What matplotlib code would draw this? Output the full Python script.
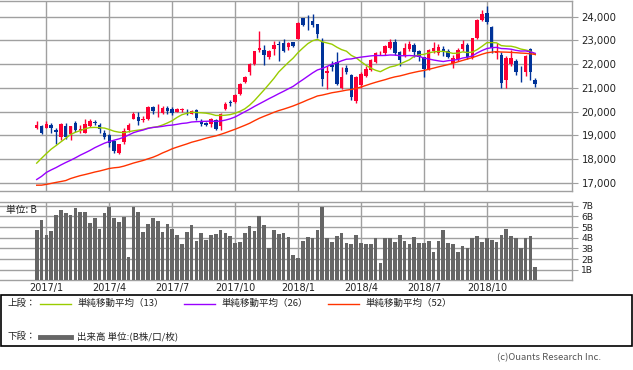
import numpy as np
import pandas as pd
import matplotlib
matplotlib.use('Agg')
import matplotlib.pyplot as plt
from matplotlib.patches import Rectangle
from matplotlib.lines import Line2D
from matplotlib.ticker import FuncFormatter

plt.rcParams['font.family'] = ['Noto Sans CJK JP', 'DejaVu Sans']

# 週足データ (2016/12/23 〜 2018/12/14)
open_ = [19310, 19390, 19298, 19450, 19220, 18940, 19400, 19040, 19500, 19200,
         19110, 19390, 19560, 19450, 19100, 19000, 18750, 18250, 18700, 19200,
         19700, 19780, 19650, 19680, 20180, 19920, 19950, 20150, 20100, 20000,
         20050, 20000, 19900, 20050, 19600, 19500, 19470, 19650, 19380, 20100,
         20400, 20400, 20720, 21250, 21650, 22000, 22600, 22590, 22300, 22640,
         22850, 22880, 22730, 22930, 23073, 23930, 23830, 23820, 23690, 22950,
         21610, 21950, 22100, 21000, 21820, 21550, 20450, 21100, 21500, 21760,
         22100, 22460, 22450, 22700, 22950, 22500, 22350, 22650, 22800, 22550,
         22280, 21800, 22550, 22470, 22620, 22550, 22030, 22200, 22630, 22800,
         22250, 23100, 23860, 24140, 23580, 22480, 22380, 21330, 22000, 22130,
         21650, 21650, 22620, 21330]
high = [19592, 19440, 19615, 19520, 19320, 19510, 19500, 19400, 19620, 19420,
        19680, 19670, 19660, 19500, 19200, 19050, 18800, 18650, 19290, 19500,
        19960, 19990, 19830, 20239, 20230, 20300, 20230, 20240, 20200, 20140,
        20150, 20120, 20080, 20090, 19700, 19550, 19740, 19700, 19930, 20400,
        20480, 20740, 21190, 21480, 22050, 22560, 23382, 22800, 22600, 22990,
        22990, 23050, 22950, 22950, 23765, 23952, 24084, 24124, 23700, 23100,
        21900, 22150, 22500, 21880, 21970, 21600, 21500, 21650, 21900, 22230,
        22500, 22560, 22800, 23050, 23050, 22550, 22880, 22970, 22880, 22600,
        22300, 22650, 22950, 22830, 22750, 22650, 22400, 22700, 23000, 22900,
        23100, 23900, 24286, 24448, 23620, 22900, 22500, 22330, 22580, 22200,
        21900, 22400, 22700, 21400]
low = [19250, 19050, 19298, 19080, 18650, 18790, 18830, 18800, 19150, 19100,
       19100, 19350, 19440, 19100, 18850, 18517, 18250, 18224, 18650, 19150,
       19690, 19450, 19560, 19630, 19900, 19780, 19900, 19880, 19850, 19990,
       19990, 19870, 19880, 19660, 19400, 19400, 19350, 19240, 19200, 20060,
       20250, 20340, 20700, 21200, 21540, 21950, 22500, 21970, 22200, 22400,
       22120, 22500, 22600, 22740, 23050, 23600, 23440, 23570, 23100, 21078,
       20950, 21700, 21100, 20940, 21600, 20500, 20347, 21000, 21450, 21700,
       22050, 22400, 22400, 22650, 22400, 21931, 22300, 22550, 22300, 22150,
       21462, 21750, 22450, 22400, 22350, 22250, 21851, 22150, 22550, 22200,
       22200, 23050, 23800, 23700, 22460, 22200, 20971, 21000, 21900, 21550,
       21240, 21500, 21330, 21020]
close = [19427, 19114, 19454, 19287, 19137, 19467, 18918, 19378, 19234, 19283,
         19469, 19604, 19521, 19262, 18909, 18664, 18335, 18620, 19197, 19445,
         19883, 19590, 19686, 20177, 20013, 19943, 20132, 20033, 19929, 20118,
         20099, 19959, 20029, 19729, 19470, 19452, 19691, 19274, 19909, 20296,
         20356, 20690, 21155, 21457, 22008, 22539, 22681, 22397, 22550, 22819,
         22811, 22553, 22902, 22765, 23714, 23653, 23808, 23631, 23274, 21382,
         21720, 21892, 21181, 21469, 21676, 20617, 21454, 21567, 21778, 22162,
         22467, 22472, 22758, 22930, 22450, 22171, 22694, 22851, 22516, 22304,
         21788, 22597, 22697, 22712, 22525, 22298, 22270, 22601, 22865, 22307,
         23094, 23869, 24120, 23783, 22694, 22532, 21184, 22243, 22250, 21680,
         21646, 22351, 21679, 21160]
# 出来高 (単位: B)
volume = [4.74, 5.67, 4.27, 4.64, 6.14, 6.60, 6.33, 6.10, 6.80, 6.45,
          6.45, 5.42, 5.89, 4.85, 6.33, 6.90, 5.89, 5.50, 5.98, 2.20,
          6.90, 6.42, 4.58, 5.30, 5.89, 5.60, 4.49, 5.30, 4.77, 4.27,
          3.45, 4.49, 5.20, 3.73, 4.46, 3.80, 4.27, 4.36, 4.74, 4.46,
          4.18, 3.52, 3.63, 4.46, 5.11, 4.65, 6.05, 5.20, 3.03, 4.74,
          4.36, 4.47, 4.06, 2.40, 2.10, 3.73, 4.09, 3.96, 4.74, 6.89,
          3.93, 3.64, 4.18, 4.46, 3.50, 3.40, 4.27, 3.53, 3.45, 3.40,
          3.93, 1.68, 3.99, 3.93, 3.62, 4.27, 3.74, 3.43, 4.11, 3.46,
          3.55, 3.74, 2.71, 3.74, 4.74, 3.53, 3.43, 2.71, 3.24, 3.06,
          3.99, 4.18, 3.62, 3.99, 3.83, 3.62, 4.27, 4.83, 4.18, 3.93,
          3.06, 3.93, 4.18, 1.28]
# 移動平均の計算用 (チャート開始前の終値 51週分)
prior_close = [19034, 17698, 17147, 16958, 17518, 16820, 14953, 15967, 16188, 17015,
               16939, 16725, 17003, 16164, 15822, 16848, 17572, 16666, 16106, 16412,
               16736, 16835, 16642, 16601, 15600, 14952, 15682, 15107, 16497, 16627,
               16569, 16254, 16920, 16546, 16361, 16926, 16965, 16519, 16754, 16450,
               16860, 16856, 17184, 17446, 16905, 17374, 17968, 18381, 18426, 18996,
               19401]

n = len(close)
x = np.arange(n)
o = np.array(open_)
c = np.array(close)
weeks = pd.date_range('2016-12-23', periods=n, freq='W-FRI')

# 四半期の最初の週に目盛り
tick_pos = [i for i in range(1, n)
            if weeks[i].month in (1, 4, 7, 10) and weeks[i].month != weeks[i - 1].month]
tick_lab = [f"{weeks[i].year}/{weeks[i].month}" for i in tick_pos]

s = pd.Series(prior_close + close, dtype=float)
ma = {p: s.rolling(p).mean().to_numpy()[len(prior_close):] for p in (13, 26, 52)}
ma_col = {13: '#99cc00', 26: '#9900ff', 52: '#ff3300'}

grid_c = '#a0a0a0'
fig = plt.figure(figsize=(6.33, 3.70), dpi=100)
ax = fig.add_axes([0, 0.4851, 0.9032, 0.5130])
axv = fig.add_axes([0, 0.2419, 0.9032, 0.2130])

for a in (ax, axv):
    a.set_xlim(-7.58, 110.54)
    a.set_xticks(tick_pos)
    a.set_axisbelow(True)
    a.grid(True, color=grid_c, lw=1)
    for sp in a.spines.values():
        sp.set_color(grid_c)
        sp.set_linewidth(1)
    a.spines['left'].set_visible(False)
    a.yaxis.tick_right()
    a.tick_params(axis='y', length=4, color=grid_c, pad=3, labelcolor='#222222')

# ローソク足
up = c >= o
col = np.where(up, '#ff0033', '#003399')
body_low = np.minimum(o, c)
body_h = np.maximum(np.abs(c - o), 25)
ax.vlines(x, low, high, colors=col, lw=1, zorder=2)
ax.bar(x, body_h, bottom=body_low, width=0.72, color=col, lw=0, zorder=3)
for p in (13, 26, 52):
    ax.plot(x, ma[p], color=ma_col[p], lw=1, zorder=4)
ax.set_ylim(16667, 24675)
ax.set_yticks(range(17000, 24001, 1000))
ax.yaxis.set_major_formatter(FuncFormatter(lambda v, _: f"{int(v):,}"))
ax.tick_params(axis='y', labelsize=7.3)
ax.tick_params(axis='x', length=0, labelbottom=False)
for t in ax.get_yticklabels():
    t.set_family('DejaVu Sans')

# 出来高
axv.bar(x, volume, width=0.76, color='#666666', lw=0, zorder=3)
axv.set_ylim(0, 7.37)
axv.set_yticks(range(1, 8))
axv.set_yticklabels([f"{v}B" for v in range(1, 8)], family='DejaVu Sans')
axv.tick_params(axis='y', labelsize=6.6)
axv.set_xticklabels(tick_lab, family='DejaVu Sans')
axv.tick_params(axis='x', length=0, labelsize=7, pad=2, labelcolor='#222222')
axv.text(0.01, 0.895, '単位: B', transform=axv.transAxes, fontsize=7,
         va='center', ha='left', color='#222222')

# 凡例
W, H = 633.0, 370.0
fig.add_artist(Rectangle((0.6 / W, 1 - 346 / H), 631 / W, 51 / H, transform=fig.transFigure,
                         fill=False, edgecolor='black', lw=1.2))
row1 = 1 - 303.5 / H
row2 = 1 - 336.5 / H
fig.text(8 / W, row1, '上段：', fontsize=6.8, va='center', color='#222222')
fig.text(8 / W, row2, '下段：', fontsize=6.8, va='center', color='#222222')
for x0, p in zip((40, 184, 328), (13, 26, 52)):
    fig.add_artist(Line2D([x0 / W, (x0 + 31) / W], [row1, row1], color=ma_col[p], lw=1))
    fig.text((x0 + 37) / W, row1, f'単純移動平均（{p}）', fontsize=6.8, va='center',
             color='#222222')
fig.add_artist(Line2D([40 / W, 71 / W], [row2, row2], color='#666666', lw=3.5))
fig.text(77 / W, row2, '出来高 単位:(B株/口/枚)', fontsize=6.8, va='center', color='#222222')
fig.text(497 / W, 1 - 358 / H, '(c)Ouants Research Inc.', fontsize=6.8, va='center',
         color='#555555')

fig.savefig('out.png', dpi=100)
